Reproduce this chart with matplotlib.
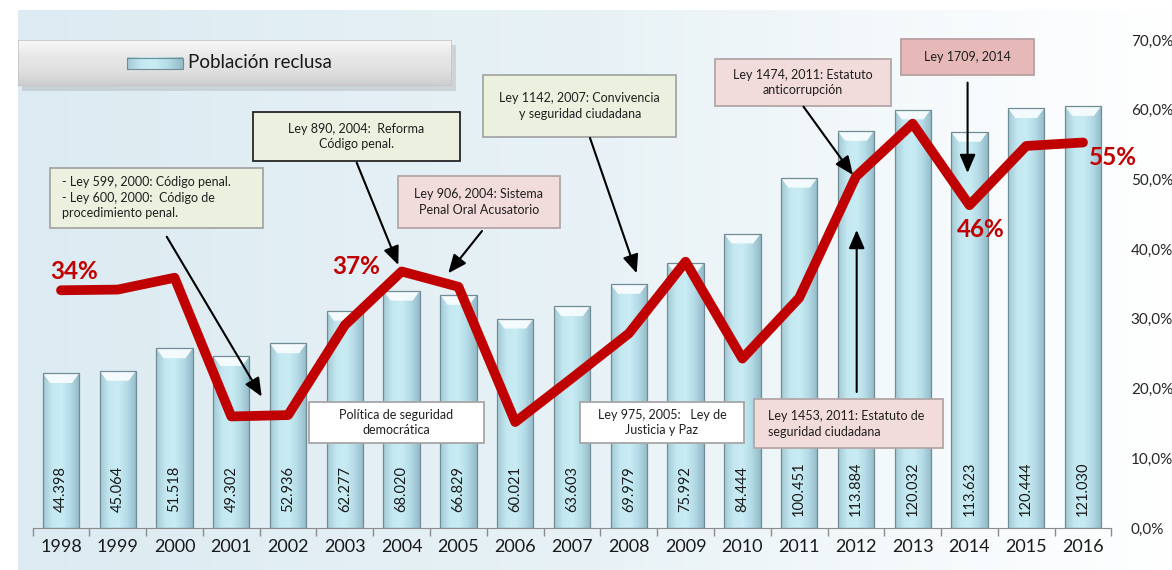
import numpy as np
import matplotlib.pyplot as plt
from matplotlib.patches import Rectangle
from matplotlib.colors import LinearSegmentedColormap

plt.rcParams['font.family'] = ['Lato', 'DejaVu Sans']

# datos
anios = ['1998', '1999', '2000', '2001', '2002', '2003', '2004', '2005', '2006', '2007',
         '2008', '2009', '2010', '2011', '2012', '2013', '2014', '2015', '2016']
poblacion = [44398, 45064, 51518, 49302, 52936, 62277, 68020, 66829, 60021, 63603,
             69979, 75992, 84444, 100451, 113884, 120032, 113623, 120444, 121030]
porcentaje = [34.1, 34.2, 35.9, 16.0, 16.2, 29.1, 36.8, 34.6, 15.2, 21.5,
              27.9, 38.2, 24.3, 33.0, 50.4, 58.0, 46.3, 54.8, 55.3]
etiquetas_pct = ['34%', '37%', '46%', '55%']
ticks_pct = [0, 10, 20, 30, 40, 50, 60, 70]

W, H = 1172, 570
fig = plt.figure(figsize=(W / 100, H / 100), dpi=100)

# fondo degradado
bg = fig.add_axes([18 / W, 0, 1 - 18 / W, 560 / H], zorder=-1)
bg_cmap = LinearSegmentedColormap.from_list('fondo', ['#dcebf2', '#e8f2f6', '#ffffff'])
bg.imshow(np.linspace(0, 1, 256).reshape(1, -1), cmap=bg_cmap, aspect='auto', extent=[0, 1, 0, 1])
bg.axis('off')

ax = fig.add_axes([32.6 / W, 42 / H, (1111.4 - 32.6) / W, 488 / H])
ax.set_facecolor('none')
x = np.arange(len(anios))

# barras con efecto cilindro
bars = ax.bar(x, poblacion, width=0.64, color='#bfe4ee', edgecolor='none', zorder=2)
bar_cmap = LinearSegmentedColormap.from_list('barra', ['#a3c9d4', '#c4e8f1', '#c9ecf4', '#b3dbe6', '#93bac6'])
grad = np.linspace(0, 1, 64).reshape(1, -1)
for b in bars:
    x0, w, h = b.get_x(), b.get_width(), b.get_height()
    im = ax.imshow(grad, cmap=bar_cmap, aspect='auto', extent=[x0, x0 + w, 0, h], zorder=2)
    im.set_clip_path(b)
    d = 2800
    ax.fill([x0, x0 + w, x0 + 0.8 * w, x0 + 0.2 * w], [h, h, h - d, h - d],
            color='#f7fcfe', alpha=0.95, zorder=3, lw=0)
ax.bar(x, poblacion, width=0.64, fill=False, edgecolor='#6f8c97', linewidth=0.9, zorder=3)

for i, v in enumerate(poblacion):
    ax.text(i, 11200, f'{v:,}'.replace(',', '.'), rotation=90, ha='center', va='center',
            fontsize=10.5, color='#1a1a1a', zorder=5)

ax.set_xlim(-0.5, len(anios) - 0.5)
ax.set_ylim(0, 140000)
ax.set_yticks([])
ax.set_xticks(x)
ax.set_xticklabels(anios, fontsize=13, color='#1a1a1a')
ax.set_xticks(np.arange(-0.5, len(anios)), minor=True)
ax.tick_params(axis='x', which='major', length=0, pad=8)
ax.tick_params(axis='x', which='minor', length=6, color='#8c8c8c', width=1)
for s in ['top', 'left', 'right']:
    ax.spines[s].set_visible(False)
ax.spines['bottom'].set_color('#8c8c8c')

# linea de porcentaje
ax2 = ax.twinx()
ax2.plot(x, porcentaje, color='#c00000', lw=7, solid_capstyle='round',
         solid_joinstyle='round', zorder=4)
ax2.set_ylim(0, 70)
ax2.set_yticks(ticks_pct)
ax2.set_yticklabels([f'{t:.1f}%'.replace('.', ',') for t in ticks_pct], fontsize=11, color='#262626')
ax2.tick_params(axis='y', length=0, pad=14)
for s in ax2.spines.values():
    s.set_visible(False)

# etiquetas en rojo
pos_pct = [(0.23, 36.8), (5.19, 37.5), (16.2, 42.75), (18.53, 53.15)]
for t, (px, py) in zip(etiquetas_pct, pos_pct):
    ax2.text(px, py, t, color='#c00000', fontsize=17.5, fontweight='bold',
             ha='center', va='center', zorder=8, clip_on=False)


# cuadros de texto
def cuadro(x0, x1, y0, y1, texto, cara, borde, ha='center', tx=None):
    ax2.add_patch(Rectangle((x0, y1), x1 - x0, y0 - y1, facecolor=cara, edgecolor=borde,
                            linewidth=1.3, zorder=6, clip_on=False))
    if tx is None:
        tx = (x0 + x1) / 2
    ax2.text(tx, (y0 + y1) / 2, texto, ha=ha, va='center', fontsize=9, color='#1f1f1f',
             linespacing=1.35, zorder=7, clip_on=False)


def flecha(x0, y0, x1, y1):
    ax2.annotate('', xy=(x1, y1), xytext=(x0, y0), zorder=6,
                 arrowprops=dict(arrowstyle='-|>,head_length=0.7,head_width=0.3',
                                 color='black', lw=1.5, mutation_scale=16,
                                 shrinkA=0, shrinkB=0))


verde = '#ecf1df'
rosa = '#f2dcdb'
cuadro(-0.194, 3.558, 51.64, 43.04,
       '- Ley 599, 2000: Código penal.\n- Ley 600, 2000:  Código de\nprocedimiento penal.',
       verde, '#a6a6a6', ha='left', tx=0.012)
cuadro(3.381, 7.027, 59.68, 52.65, 'Ley 890, 2004:  Reforma\nCódigo penal.', verde, '#262626')
cuadro(5.935, 8.788, 50.50, 43.04, 'Ley 906, 2004: Sistema\nPenal Oral Acusatorio', rosa, '#b3a6a6')
cuadro(7.441, 10.831, 64.98, 56.09, 'Ley 1142, 2007: Convivencia\ny seguridad ciudadana', verde, '#a6a6a6')
cuadro(9.141, 12.029, 18.12, 12.15, 'Ley 975, 2005:   Ley de\nJusticia y Paz', 'white', '#a6a6a6')
cuadro(4.368, 7.450, 18.12, 12.15, 'Política de seguridad\ndemocrática', 'white', '#a6a6a6')
cuadro(11.518, 14.618, 67.28, 60.54, 'Ley 1474, 2011: Estatuto\nanticorrupción', rosa, '#b3a6a6')
cuadro(14.794, 17.137, 70.10, 64.98, 'Ley 1709, 2014', '#e6b9b8', '#b8a0a0')
cuadro(12.212, 15.534, 18.46, 11.43, 'Ley 1453, 2011: Estatuto de\nseguridad ciudadana',
       rosa, '#b3a6a6', ha='left', tx=12.45)

flecha(1.862, 41.79, 3.535, 18.84)
flecha(5.208, 52.4, 5.941, 37.73)
flecha(7.415, 42.6, 6.821, 36.54)
flecha(9.317, 55.95, 10.139, 36.54)
flecha(13.077, 60.44, 13.948, 50.64)
flecha(15.967, 63.88, 15.967, 50.92)
flecha(14.014, 19.51, 14.014, 42.75)

# leyenda
fig.patches.append(Rectangle((22 / W, (570 - 91) / H), 434 / W, 46 / H, transform=fig.transFigure,
                             facecolor='#a0a0a0', alpha=0.35, edgecolor='none'))
lg = fig.add_axes([18 / W, (570 - 86) / H, 434 / W, 46 / H], zorder=3)
lg_cmap = LinearSegmentedColormap.from_list('ley', ['#cdcdcd', '#e0e0e0', '#e8e8e8', '#f8f8f8'])
lg.imshow(np.linspace(0, 1, 64).reshape(-1, 1), cmap=lg_cmap, aspect='auto',
          extent=[0, 1, 0, 1], origin='lower')
lg.add_patch(Rectangle((0, 0), 1, 1, fill=False, edgecolor='#c4c4c4', lw=1.2))
lg.imshow(grad, cmap=bar_cmap, aspect='auto', extent=[0.251, 0.380, 0.37, 0.61])
lg.add_patch(Rectangle((0.251, 0.37), 0.129, 0.24, fill=False, edgecolor='#6f8c97', lw=0.8))
lg.text(0.392, 0.5, 'Población reclusa', fontsize=13.5, color='#1a1a1a', va='center', ha='left')
lg.set_xlim(0, 1)
lg.set_ylim(0, 1)
lg.axis('off')

fig.savefig('out.png', dpi=100)
